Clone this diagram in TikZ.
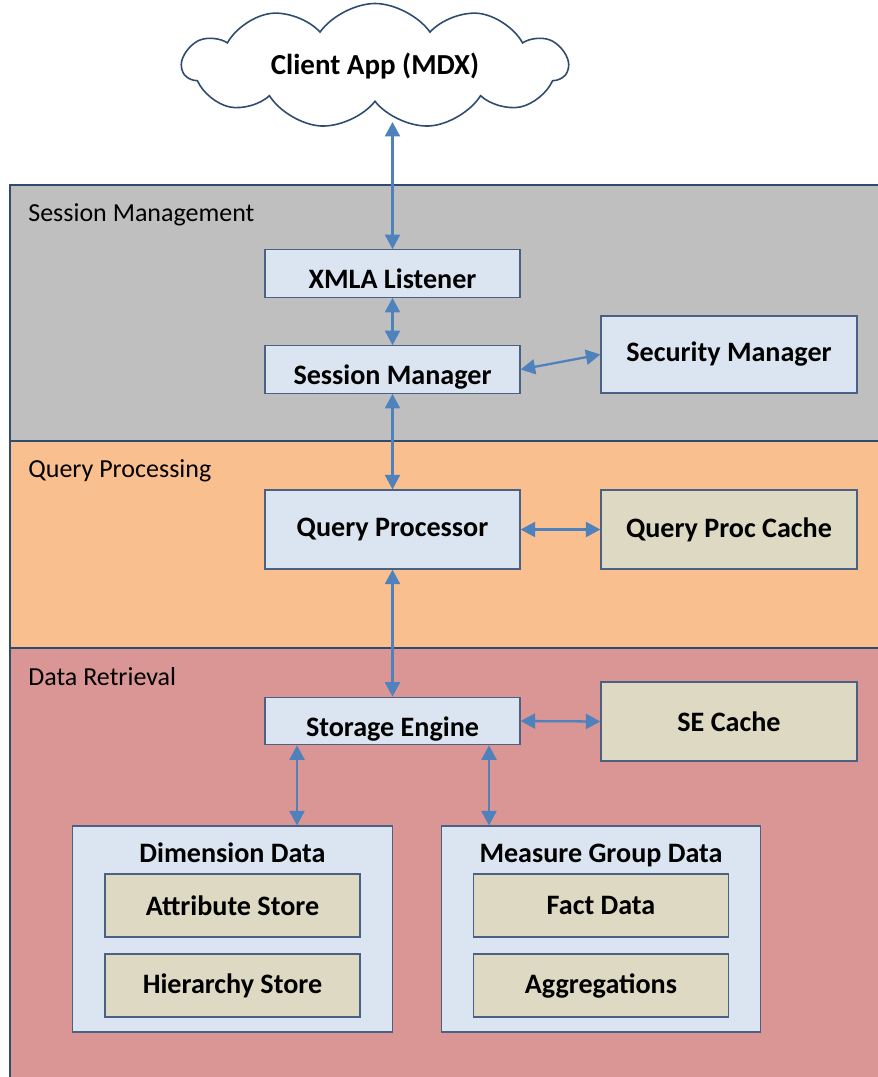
\documentclass[tikz,border=0pt]{standalone}
\usepackage{fontspec}
\setmainfont{Carlito}
\usetikzlibrary{shapes.symbols}
\usetikzlibrary{arrows.meta}
\definecolor{azul}{HTML}{4F81BD}
\definecolor{borde}{HTML}{4A6184}
\definecolor{marco}{HTML}{2F4B6E}
\definecolor{celeste}{HTML}{DBE5F1}
\definecolor{arena}{HTML}{DDD9C3}
\definecolor{gris}{HTML}{BFBFBF}
\definecolor{naranja}{HTML}{FABF8F}
\definecolor{rosa}{HTML}{D99694}

\begin{document}
\begin{tikzpicture}[
  caja/.style={rectangle,draw=borde,line width=0.7pt,fill=celeste,inner sep=0pt,
    font=\fontsize{16}{19}\selectfont\bfseries,minimum width=5.1cm},
  cache/.style={caja,fill=arena,minimum width=5.12cm,minimum height=1.58cm},
  bajo/.style={caja,minimum height=0.95cm,text depth=0pt,text height=0.6cm},
  grupo/.style={caja,minimum width=6.39cm,minimum height=4.12cm},
  rotulo/.style={font=\fontsize{16}{19}\selectfont\bfseries,anchor=base,yshift=-0.74cm},
  capa/.style={draw=marco,line width=1.4pt},
  titulo/.style={anchor=base west,inner sep=0pt,font=\fontsize{14.8}{17}\selectfont},
  flecha/.style={azul,line width=1.3pt,{Triangle[length=0.29cm,width=0.3cm]}-{Triangle[length=0.29cm,width=0.3cm]}}]
\useasboundingbox (0,0) rectangle (17.56,-21.54);
\clip (0,0) rectangle (17.56,-21.54);
% capas
\fill[gris] (0.2,-3.7) rectangle (17.8,-8.82);
\fill[naranja] (0.2,-8.82) rectangle (17.8,-12.96);
\fill[rosa] (0.2,-12.96) rectangle (17.8,-21.8);
\draw[capa] (17.8,-3.7)--(0.2,-3.7)--(0.2,-21.8);
\draw[capa] (0.2,-8.82)--(17.8,-8.82);
\draw[capa] (0.2,-12.96)--(17.8,-12.96);
\path (0.56,-4.42) node(t1)[titulo]{Session Management}
(0.56,-9.54) node(t2)[titulo]{Query Processing}
(0.56,-13.7) node(t3)[titulo]{Data Retrieval};

\path (7.5,-1.32) node(cli)[cloud,cloud puffs=11,cloud puff arc=110,cloud ignores aspect,
  draw=marco,line width=0.9pt,fill=white,minimum width=7.7cm,minimum height=2.5cm,
  font=\fontsize{16.5}{19}\selectfont\bfseries]{Client App (MDX)}
(7.85,-5.47) node(xmla)[bajo]{XMLA Listener}
(7.85,-7.39) node(ses)[bajo]{Session Manager}
(14.58,-7.09) node(seg)[caja,minimum width=5.12cm,minimum height=1.54cm]{Security Manager}
(7.85,-10.59) node(qp)[caja,minimum height=1.58cm]{Query Processor}
(14.58,-10.59) node(qpc)[cache]{Query Proc Cache}
(7.85,-14.42) node(se)[bajo]{Storage Engine}
(14.58,-14.43) node(sec)[cache]{SE Cache}
(4.65,-18.58) node(dim)[grupo,label={[rotulo]north:Dimension Data}]{}
(12.02,-18.58) node(mg)[grupo,label={[rotulo]north:Measure Group Data}]{}
(4.65,-18.11) node(atr)[caja,fill=arena,minimum height=1.26cm]{Attribute Store}
(4.65,-19.71) node(jer)[caja,fill=arena,minimum height=1.26cm]{Hierarchy Store}
(12.02,-18.11) node(fac)[caja,fill=arena,minimum height=1.26cm]{Fact Data}
(12.02,-19.71) node(agr)[caja,fill=arena,minimum height=1.26cm]{Aggregations};

\coordinate (c1) at (7.85,-2.44);
\coordinate (p1) at ([xshift=-1.91cm]se.south);
\coordinate (p2) at ([xshift=1.93cm]se.south);
\draw[flecha](xmla.north)--(c1);
\draw[flecha](xmla.south)--(ses.north);
\draw[flecha](ses.east)--(seg.west);
\draw[flecha](ses.south)--(qp.north);
\draw[flecha](qp.east)--(qpc.west);
\draw[flecha](qp.south)--(se.north);
\draw[flecha](se.east)--(sec.west);
\draw[flecha](p1)--(p1 |- dim.north);
\draw[flecha](p2)--(p2 |- mg.north);

\end{tikzpicture}
\end{document}
